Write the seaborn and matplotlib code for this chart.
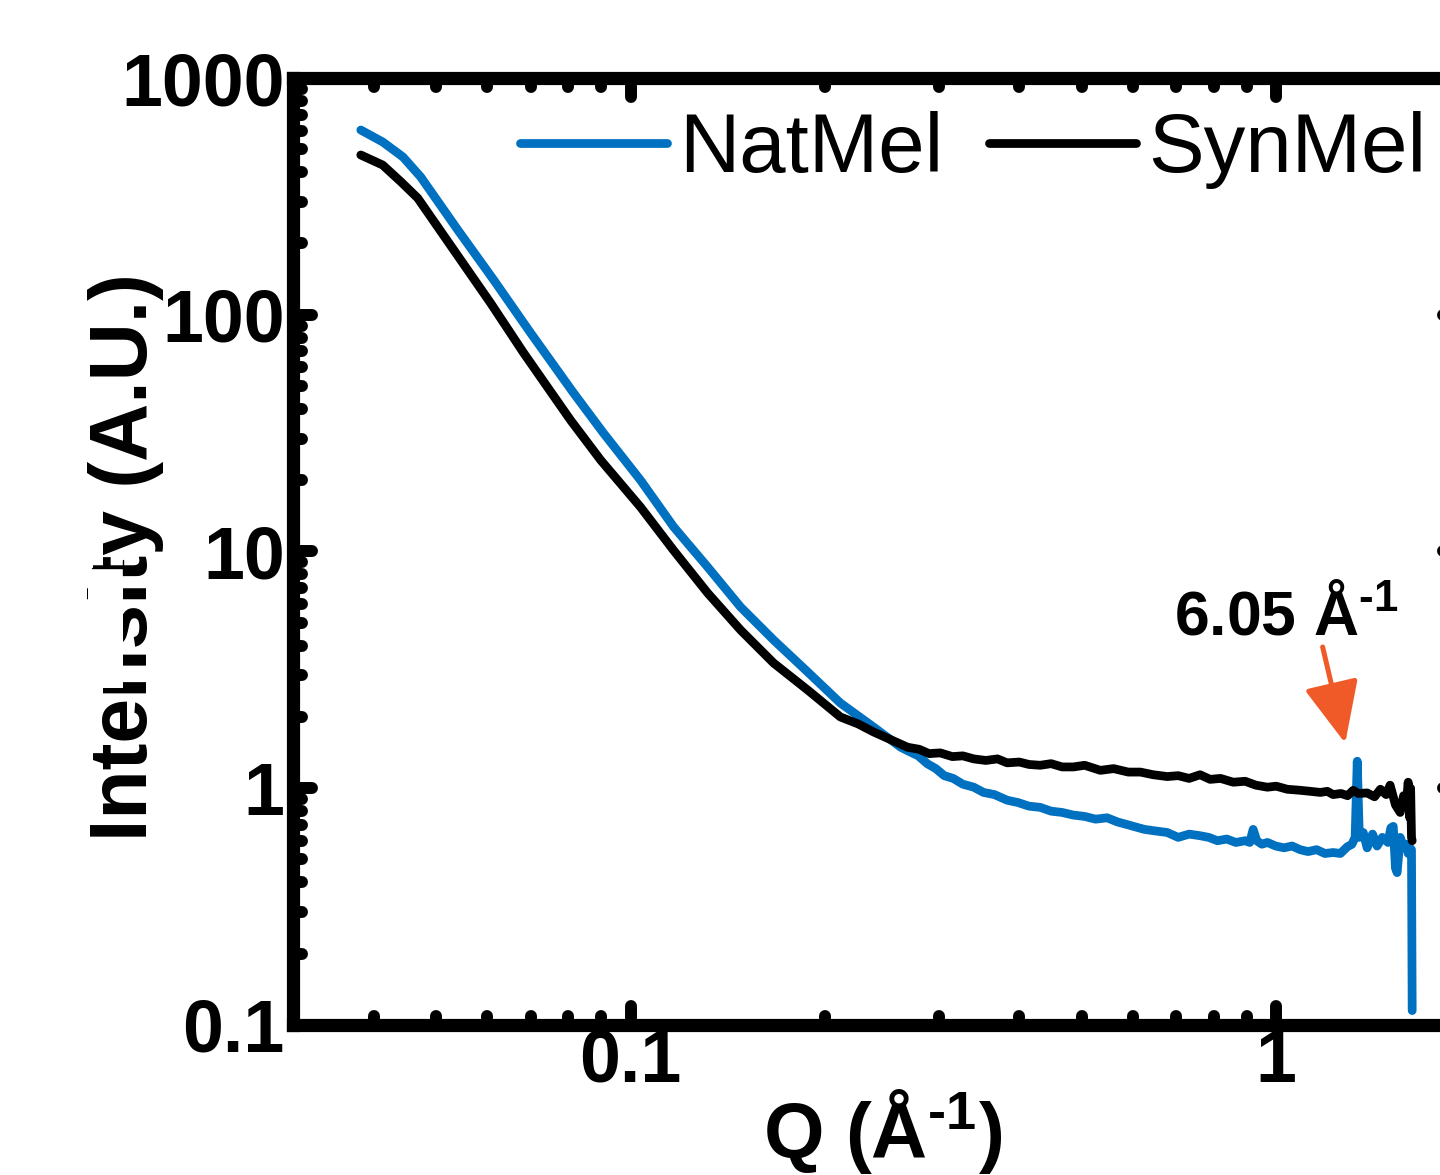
import numpy as np
import matplotlib
matplotlib.use("Agg")
import matplotlib.pyplot as plt
import seaborn as sns
from matplotlib.markers import MarkerStyle, TICKUP, TICKDOWN, TICKLEFT, TICKRIGHT
from matplotlib.ticker import LogLocator, NullFormatter
from matplotlib.patches import Rectangle
from matplotlib.lines import Line2D

# ---------------------------------------------------------------------
# data (Q in 1/A, intensity in A.U.)
# ---------------------------------------------------------------------
nat_q = [0.0382, 0.0413, 0.0444, 0.0473, 0.0540, 0.0614, 0.0700, 0.0816, 0.0908,
         0.1036, 0.1166, 0.1316, 0.148, 0.1665, 0.188, 0.2113, 0.2377,
         0.262, 0.270, 0.279, 0.288, 0.297, 0.306, 0.316, 0.327, 0.340, 0.352,
         0.366, 0.383, 0.398, 0.414, 0.431, 0.448, 0.466, 0.485, 0.505, 0.525,
         0.547, 0.568, 0.590, 0.601, 0.625, 0.650, 0.678, 0.705, 0.733, 0.762,
         0.786, 0.811, 0.838, 0.866, 0.895, 0.910, 0.921, 0.933, 0.950, 0.969,
         0.998, 1.028, 1.058, 1.089, 1.120, 1.155, 1.190, 1.225, 1.257, 1.288,
         1.310, 1.325, 1.335, 1.345, 1.364, 1.383, 1.410, 1.433, 1.460, 1.490,
         1.505, 1.518, 1.530, 1.539, 1.556, 1.573, 1.590, 1.601, 1.612, 1.620, 1.624]
nat_I = [603, 537, 464, 382, 228, 140, 83.8, 46.7, 31.6,
         20.0, 12.7, 8.60, 5.83, 4.23, 3.10, 2.29, 1.815,
         1.49, 1.43, 1.37, 1.27, 1.21, 1.13, 1.10, 1.04, 1.01, 0.96,
         0.94, 0.89, 0.87, 0.84, 0.83, 0.80, 0.79, 0.77, 0.76, 0.74,
         0.75, 0.72, 0.70, 0.69, 0.67, 0.66, 0.65, 0.62, 0.64, 0.63,
         0.62, 0.60, 0.61, 0.59, 0.60, 0.59, 0.67, 0.60, 0.58, 0.59,
         0.57, 0.56, 0.57, 0.55, 0.54, 0.55, 0.53, 0.535, 0.53, 0.565,
         0.58, 0.62, 1.30, 0.62, 0.65, 0.56, 0.64, 0.57, 0.62, 0.59,
         0.68, 0.69, 0.46, 0.44, 0.62, 0.57, 0.58, 0.53, 0.56, 0.55, 0.115]

syn_q = [0.0382, 0.0413, 0.0441, 0.0468, 0.0532, 0.0607, 0.0683, 0.0807, 0.0899,
         0.1036, 0.1166, 0.1316, 0.148, 0.1665, 0.188, 0.2113, 0.225, 0.2377,
         0.2685, 0.280, 0.290, 0.3017, 0.315, 0.327, 0.340, 0.355, 0.370, 0.383,
         0.400, 0.414, 0.431, 0.448, 0.466, 0.485, 0.505, 0.534, 0.560, 0.590,
         0.616, 0.645, 0.678, 0.705, 0.733, 0.762, 0.790, 0.820, 0.858, 0.895,
         0.930, 0.969, 1.000, 1.040, 1.089, 1.130, 1.170, 1.200, 1.225, 1.260,
         1.290, 1.316, 1.340, 1.383, 1.420, 1.450, 1.480, 1.501, 1.530, 1.556,
         1.575, 1.590, 1.601, 1.610, 1.615, 1.620, 1.624]
syn_I = [473, 429, 364, 311, 188, 112, 68.9, 35.9, 24.3,
         15.4, 10.1, 6.68, 4.66, 3.38, 2.60, 2.00, 1.87, 1.73,
         1.49, 1.46, 1.40, 1.41, 1.36, 1.37, 1.33, 1.31, 1.33, 1.28,
         1.29, 1.26, 1.25, 1.27, 1.23, 1.23, 1.25, 1.19, 1.21, 1.17,
         1.17, 1.14, 1.12, 1.13, 1.10, 1.14, 1.09, 1.10, 1.06, 1.07,
         1.03, 1.01, 1.02, 0.99, 0.98, 0.97, 0.96, 0.97, 0.94, 0.95,
         0.93, 0.98, 0.95, 0.955, 0.92, 0.99, 0.94, 1.03, 0.85, 0.79,
         0.93, 0.85, 1.06, 0.75, 1.00, 0.62, 0.60]

series_names = ["NatMel", "SynMel"]
series_colors = ["#0070C0", "black"]

y_ticks = [0.1, 1, 10, 100, 1000]
y_ticklabels = ["0.1", "1", "10", "100", "1000"]
x_ticks = [0.1, 1]
x_ticklabels = ["0.1", "1"]

peak_label = "6.05 Å$^{\u2010 1}$"
peak_tip = (1.279, 1.55)
peak_tail = (1.18, 3.95)
peak_text_pos = (1.036, 4.44)

# ---------------------------------------------------------------------
sns.set_style("ticks")
plt.rcParams["font.family"] = ["Liberation Sans", "DejaVu Sans"]
plt.rcParams["font.weight"] = "bold"
plt.rcParams["text.color"] = "black"
plt.rcParams["axes.labelcolor"] = "black"
plt.rcParams["xtick.color"] = "black"
plt.rcParams["ytick.color"] = "black"
plt.rcParams["mathtext.fontset"] = "custom"
plt.rcParams["mathtext.rm"] = "Liberation Sans"
plt.rcParams["mathtext.bf"] = "Liberation Sans:bold"
plt.rcParams["mathtext.default"] = "regular"
plt.rcParams["lines.solid_capstyle"] = "round"
plt.rcParams["lines.solid_joinstyle"] = "round"

fig = plt.figure(figsize=(14.4, 11.75), dpi=100)
ax = fig.add_axes([0.2035, 0.1277, 0.8118, 0.8059])

sns.lineplot(x=nat_q, y=nat_I, sort=False, estimator=None, color=series_colors[0],
             linewidth=6.3, label=series_names[0], ax=ax)
sns.lineplot(x=syn_q, y=syn_I, sort=False, estimator=None, color=series_colors[1],
             linewidth=6.3, label=series_names[1], ax=ax)

ax.set_xscale("log")
ax.set_yscale("log")
ax.set_xlim(0.03, 1.94)
ax.set_ylim(0.1, 1000)

ax.set_yticks(y_ticks, labels=y_ticklabels)
ax.set_xticks(x_ticks, labels=x_ticklabels)
for axis in (ax.xaxis, ax.yaxis):
    axis.set_minor_locator(LogLocator(base=10, subs=np.arange(2, 10), numticks=30))
    axis.set_minor_formatter(NullFormatter())

ax.tick_params(which="both", direction="in", top=True, right=True, width=8.6,
               color="black", labelsize=53, labelcolor="black")
ax.tick_params(which="major", length=13.7)
ax.tick_params(which="minor", length=6.5)
ax.tick_params(axis="y", pad=6)
ax.tick_params(axis="x", pad=2)

for sp in ax.spines.values():
    sp.set_linewidth(9.5)
    sp.set_color("black")

ax.set_xlabel("Q (Å$^{\u2010 1}$)", fontsize=56, fontweight="bold", color="black")
ax.set_ylabel("Intensity (A.U.)", fontsize=58, fontweight="bold", color="black")
ax.xaxis.set_label_coords(0.504, -0.066)
ax.yaxis.set_label_coords(-0.110, 0.494)

handles, labels = ax.get_legend_handles_labels()
leg = ax.legend(handles, labels, ncol=2, frameon=False, loc="center",
                bbox_to_anchor=(0.676, 0.872), bbox_transform=fig.transFigure,
                prop={"family": "Liberation Sans", "weight": "normal", "size": 60},
                handlelength=1.76, handletextpad=0.15, columnspacing=0.55,
                borderpad=0, borderaxespad=0)
for t in leg.get_texts():
    t.set_color("black")

# peak annotation
ax.annotate("", xy=peak_tip, xytext=peak_tail,
            arrowprops=dict(arrowstyle="-|>,head_length=1.9,head_width=0.85",
                            mutation_scale=20, color="#F05A28", lw=3.6,
                            shrinkA=0, shrinkB=0))
ax.text(peak_text_pos[0], peak_text_pos[1], peak_label, ha="center", va="baseline",
        fontsize=45, fontweight="bold", color="black")

# white patch sitting over part of the y label, as in the original figure
fig.patches.append(Rectangle((0.0611, 0.4145), 0.0243, 0.1021, transform=fig.transFigure,
                             facecolor="white", edgecolor="none", zorder=5))
fig.add_artist(Line2D([0.0639, 0.0854], [0.5166, 0.5166], transform=fig.transFigure,
                      color="black", lw=1.0, zorder=6))
fig.add_artist(Line2D([0.0854, 0.0854], [0.5106, 0.5234], transform=fig.transFigure,
                      color="black", lw=1.0, zorder=6))

# round the tick ends so they look like dots
fig.canvas.draw()
for axis, m1, m2 in [(ax.xaxis, TICKUP, TICKDOWN), (ax.yaxis, TICKRIGHT, TICKLEFT)]:
    for tick in axis.get_major_ticks() + axis.get_minor_ticks():
        tick.tick1line.set_marker(MarkerStyle(m1, capstyle="round"))
        tick.tick2line.set_marker(MarkerStyle(m2, capstyle="round"))

fig.savefig("out.png", dpi=100)
